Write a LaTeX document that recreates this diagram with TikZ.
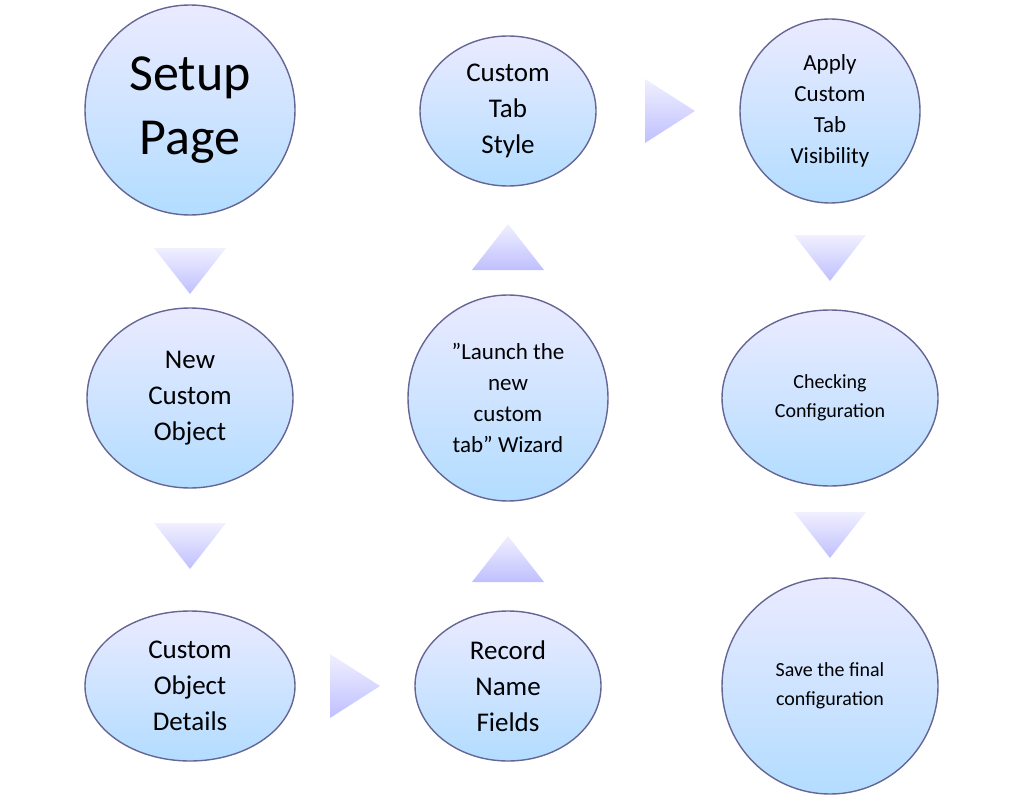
\documentclass[tikz,border=0pt]{standalone}
\usepackage{fontspec}
\setmainfont{Carlito}
\usetikzlibrary{shapes.geometric}
\begin{document}
\begin{tikzpicture}[x=1pt,y=1pt,
  bub/.style={ellipse,draw=black!70!blue!60,line width=1.4pt,top color=blue!8,bottom color=blue!45!cyan!30,inner sep=0pt,align=center,font=\fontsize{27}{36}\selectfont},
  tri/.style={top color=blue!6,bottom color=blue!25,draw=none}]
\useasboundingbox (0,0) rectangle (1024,-805);
\node[bub,minimum width=210,minimum height=210,font=\fontsize{52}{64}\selectfont] (a) at (190,-110) {Setup\\Page};
\node[bub,minimum width=206,minimum height=180] (b) at (190,-398) {New\\Custom\\Object};
\node[bub,minimum width=210,minimum height=150] (c) at (190,-686) {Custom\\Object\\Details};
\node[bub,minimum width=186,minimum height=150] (d) at (508,-686) {Record\\Name\\Fields};
\node[bub,minimum width=200,minimum height=206,font=\fontsize{23}{31}\selectfont] (e) at (508,-398) {"Launch the\\new\\custom\\tab" Wizard};
\node[bub,minimum width=176,minimum height=150] (f) at (508,-111) {Custom\\Tab\\Style};
\node[bub,minimum width=180,minimum height=184,font=\fontsize{23}{31}\selectfont] (g) at (830,-111) {Apply\\Custom\\Tab\\Visibility};
\node[bub,minimum width=216,minimum height=176,font=\fontsize{20}{29}\selectfont] (h) at (830,-398) {Checking\\Configuration};
\node[bub,minimum width=216,minimum height=216,font=\fontsize{20}{29}\selectfont] (i) at (830,-686) {Save the final\\configuration};
% down triangles
\foreach \x/\y in {190/-248,190/-523,830/-235,830/-512}
  \shade[tri] (\x-36,\y) -- (\x+36,\y) -- (\x,\y-46) -- cycle;
% up triangles
\foreach \x/\y in {508/-270,508/-582}
  \shade[tri] (\x-36,\y) -- (\x+36,\y) -- (\x,\y+46) -- cycle;
% right triangles
\foreach \x/\y in {330/-686,645/-111}
  \shade[tri] (\x,\y+32) -- (\x,\y-32) -- (\x+50,\y) -- cycle;
\end{tikzpicture}
\end{document}
